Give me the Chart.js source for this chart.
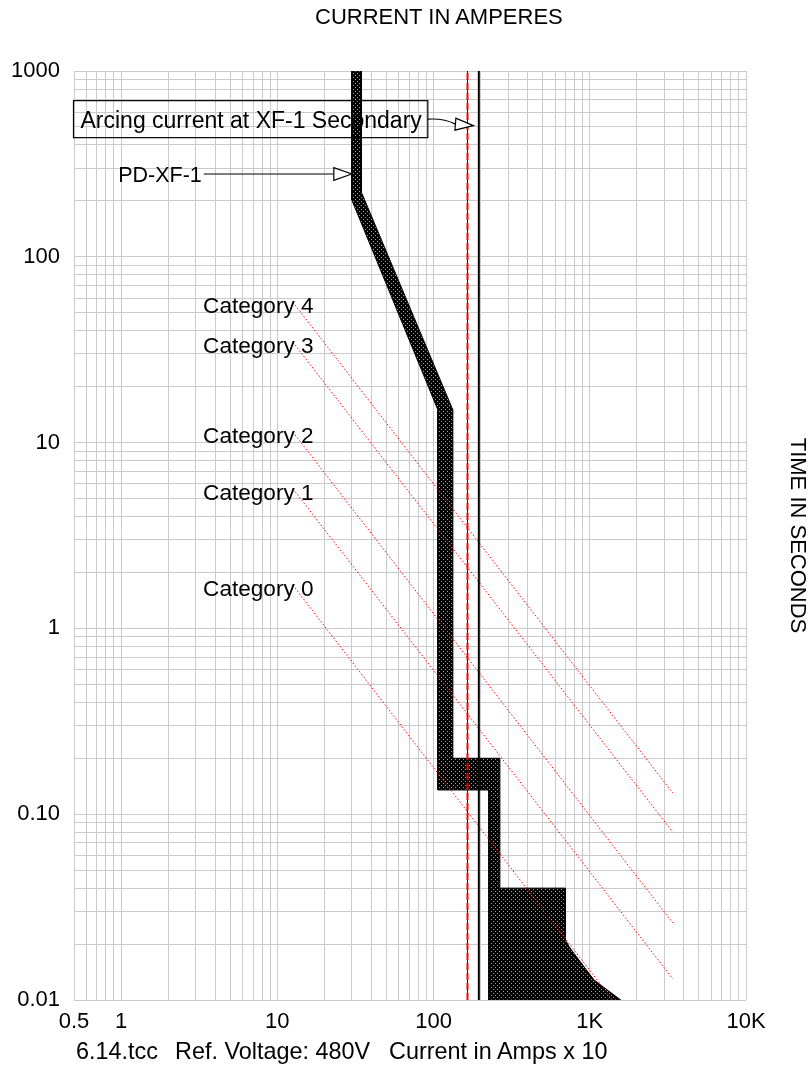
<!DOCTYPE html>
<html>
<head>
<meta charset="utf-8">
<script src="https://cdn.jsdelivr.net/npm/chart.js@4/dist/chart.umd.min.js"></script>
<style>
  html, body { margin: 0; padding: 0; background: #fff; }
  #wrap { position: relative; width: 811px; height: 1091px; }
  .txt { position: absolute; font-family: 'Liberation Sans', Arial, Helvetica, sans-serif; color: #000; white-space: pre; }
  #title { left: 315px; top: 4px; font-size: 22px; line-height: 26px; }
  .note { top: 1038px; font-size: 23.4px; line-height: 26px; }
</style>
</head>
<body>
<div id="wrap">
  <canvas id="c" width="811" height="1091"></canvas>
  <div id="title" class="txt">CURRENT IN AMPERES</div>
  <div class="txt note" style="left:76px">6.14.tcc</div>
  <div class="txt note" style="left:175px">Ref. Voltage: 480V</div>
  <div class="txt note" style="left:389px">Current in Amps x 10</div>
</div>
<script>
// ---------- DATA ----------
const xTickValues = [0.5, 1, 10, 100, 1000, 10000];
const xTickLabels = ['0.5', '1', '10', '100', '1K', '10K'];
const yTickValues = [0.01, 0.1, 1, 10, 100, 1000];
const yTickLabels = ['0.01', '0.10', '1', '10', '100', '1000'];

// PD-XF-1 band outline (amps, seconds), clockwise
const bandAmps = [30, 30, 106.6, 106.6, 226, 226, 1580, 1066, 793, 737, 699, 699, 266, 266, 133, 133, 34.6, 34.6, 30];
const bandSecs = [1000, 202, 15, 0.135, 0.135, 0.01, 0.01, 0.0128, 0.0178, 0.0194, 0.021, 0.04, 0.04, 0.2, 0.2, 15, 222, 1000, 1000];

// Arc-flash category lines
const catNames = ['Category 0', 'Category 1', 'Category 2', 'Category 3', 'Category 4'];
const catStartAmps = [13, 13, 13, 13, 13];
const catStartSecs = [1.65, 5.45, 11, 33.5, 55];
const catEndAmps = [1400, 3400, 3400, 3400, 3400];
const catEndSecs = [0.01, 0.013, 0.026, 0.08, 0.13];

// vertical current markers
const arcingCurrentAmps = 165;
const secondLineAmps = 195;
const timeSpan = [0.01, 1000];

// annotation anchors (amps, seconds)
const arcLabelText = 'Arcing current at XF-1 Secondary';
const arcArrowTip = {x: 180, y: 508};
const pdLabelText = 'PD-XF-1';
const pdArrowTip = {x: 30, y: 279};

// ---------- HELPERS ----------
const FONT = "'Liberation Sans', Arial, Helvetica, sans-serif";
const GRID = '#cacaca';

function decadeGrid(minV, maxV) {
  const out = [];
  for (let e = -3; e <= 5; e++) {
    for (let m = 1; m <= 9; m++) {
      const v = parseFloat((m * Math.pow(10, e)).toPrecision(6));
      if (v >= minV - 1e-12 && v <= maxV + 1e-9) out.push(v);
    }
  }
  return out;
}
const xGrid = decadeGrid(0.5, 10000);
const yGrid = decadeGrid(0.01, 1000);

const xLabelMap = {}; xTickValues.forEach((v, i) => xLabelMap[String(v)] = xTickLabels[i]);
const yLabelMap = {}; yTickValues.forEach((v, i) => yLabelMap[String(v)] = yTickLabels[i]);

// dotted pattern for band
const pc = document.createElement('canvas');
pc.width = 4; pc.height = 4;
const pctx = pc.getContext('2d');
pctx.fillStyle = '#000'; pctx.fillRect(0, 0, 4, 4);
pctx.fillStyle = '#a0a0a0'; pctx.fillRect(1, 1, 1, 1); pctx.fillRect(3, 3, 1, 1);
const ctx0 = document.getElementById('c').getContext('2d');
const bandPattern = ctx0.createPattern(pc, 'repeat');

const zip = (xs, ys) => xs.map((x, i) => ({x: x, y: ys[i]}));

const datasets = [];
datasets.push({ label: 'line195', data: [{x: secondLineAmps, y: timeSpan[0]}, {x: secondLineAmps, y: timeSpan[1]}],
  borderColor: '#000', borderWidth: 2, showLine: true, pointRadius: 0, order: 1 });
datasets.push({ label: 'arcRed', data: [{x: arcingCurrentAmps, y: timeSpan[0]}, {x: arcingCurrentAmps, y: timeSpan[1]}],
  borderColor: '#ff0000', borderWidth: 2, borderDash: [7, 3], showLine: true, pointRadius: 0, order: 2 });
datasets.push({ label: 'arcDark', data: [{x: arcingCurrentAmps, y: timeSpan[0]}, {x: arcingCurrentAmps, y: timeSpan[1]}],
  borderColor: '#400000', borderWidth: 1, showLine: true, pointRadius: 0, order: 3 });
catNames.forEach((n, i) => {
  datasets.push({ label: n, data: [{x: catStartAmps[i], y: catStartSecs[i]}, {x: catEndAmps[i], y: catEndSecs[i]}],
    borderColor: '#ff0000', borderWidth: 1, borderDash: [1.5, 2], showLine: true, pointRadius: 0, order: 5 });
});
datasets.push({ label: 'PD-XF-1', isBand: true, data: zip(bandAmps, bandSecs),
  borderColor: '#000', borderWidth: 1, showLine: true, pointRadius: 0, order: 10, tension: 0 });

const bandFill = {
  id: 'bandFill',
  beforeDatasetDraw(chart, args) {
    const ds = chart.data.datasets[args.index];
    if (!ds.isBand) return;
    const pts = args.meta.data;
    const c = chart.ctx, a = chart.chartArea;
    c.save();
    c.beginPath(); c.rect(a.left, a.top, a.right - a.left, a.bottom - a.top); c.clip();
    c.beginPath();
    pts.forEach((p, i) => i ? c.lineTo(p.x, p.y) : c.moveTo(p.x, p.y));
    c.closePath();
    c.fillStyle = bandPattern;
    c.fill();
    c.restore();
  }
};

function openArrowHead(c, bx, by, tx, ty, half) {
  const dx = tx - bx, dy = ty - by, L = Math.hypot(dx, dy);
  const nx = -dy / L, ny = dx / L;
  c.save();
  c.beginPath();
  c.moveTo(tx, ty);
  c.lineTo(bx + nx * half, by + ny * half);
  c.lineTo(bx - nx * half, by - ny * half);
  c.closePath();
  c.fillStyle = '#fff'; c.fill();
  c.lineWidth = 1.2; c.strokeStyle = '#000'; c.stroke();
  c.restore();
}

const annotations = {
  id: 'annotations',
  afterDatasetsDraw(chart) {
    const c = chart.ctx, xs = chart.scales.x, ys = chart.scales.y, a = chart.chartArea;
    c.save();
    c.fillStyle = '#000';
    c.strokeStyle = '#000';
    c.textBaseline = 'alphabetic';
    c.font = '22.6px ' + FONT;
    catNames.forEach((n, i) => {
      const px = xs.getPixelForValue(catStartAmps[i]);
      const py = ys.getPixelForValue(catStartSecs[i]);
      c.textAlign = 'left';
      c.fillText(n, px - 92, py + 8);
    });
    // arcing label box + arrow
    c.font = '23px ' + FONT;
    const tx = xs.getPixelForValue(arcArrowTip.x), ty = ys.getPixelForValue(arcArrowTip.y);
    const boxTop = ty - 25, boxBot = ty + 12;
    const boxLeft = a.left - 0.5;
    const tw = c.measureText(arcLabelText).width;
    const boxRight = boxLeft + 7 + tw + 6;
    c.textAlign = 'left';
    c.fillText(arcLabelText, boxLeft + 7, ty + 2.5);
    c.lineWidth = 1.2;
    c.strokeRect(boxLeft, boxTop, boxRight - boxLeft, boxBot - boxTop);
    const midY = (boxTop + boxBot) / 2;
    const bx = tx - 18, by = ty - 1.5;
    c.beginPath();
    c.moveTo(boxRight, midY);
    c.quadraticCurveTo(boxRight + 16, midY - 1, bx, by);
    c.stroke();
    openArrowHead(c, bx, by, tx, ty, 6);
    // PD-XF-1 label + arrow
    c.font = '21.5px ' + FONT;
    const px = xs.getPixelForValue(pdArrowTip.x), py = ys.getPixelForValue(pdArrowTip.y);
    c.fillStyle = '#000';
    c.textAlign = 'right';
    c.fillText(pdLabelText, px - 150, py + 7.5);
    c.beginPath();
    c.moveTo(px - 148, py); c.lineTo(px - 18, py);
    c.lineWidth = 1.2; c.stroke();
    openArrowHead(c, px - 18, py, px, py, 6.3);
    c.restore();
  }
};

new Chart(ctx0, {
  type: 'scatter',
  data: { datasets: datasets },
  plugins: [bandFill, annotations],
  options: {
    responsive: false,
    animation: false,
    devicePixelRatio: 1,
    layout: { padding: { top: 71, left: 0, right: 0, bottom: 0 } },
    plugins: {
      legend: { display: false },
      tooltip: { enabled: false },
      title: { display: false }
    },
    scales: {
      x: {
        type: 'logarithmic', min: 0.5, max: 10000, position: 'bottom',
        grid: { color: GRID, lineWidth: 1, drawTicks: false },
        border: { display: false },
        ticks: { autoSkip: false, maxRotation: 0, minRotation: 0, color: '#000', padding: 9,
          font: { family: FONT, size: 22 },
          callback: (v) => xLabelMap[String(v)] !== undefined ? xLabelMap[String(v)] : '' },
        afterBuildTicks: (s) => { s.ticks = xGrid.map(v => ({value: v})); },
        afterFit: (s) => { s.height = 91; }
      },
      y: {
        type: 'logarithmic', min: 0.01, max: 1000, position: 'left',
        grid: { color: GRID, lineWidth: 1, drawTicks: false },
        border: { display: false },
        ticks: { autoSkip: false, color: '#000', padding: 14,
          font: { family: FONT, size: 22 },
          callback: (v) => yLabelMap[String(v)] !== undefined ? yLabelMap[String(v)] : '' },
        afterBuildTicks: (s) => { s.ticks = yGrid.map(v => ({value: v})); },
        afterFit: (s) => { s.width = 74; }
      },
      yR: {
        type: 'logarithmic', min: 0.01, max: 1000, position: 'right', display: true,
        grid: { display: false, drawTicks: false },
        border: { display: false },
        ticks: { display: false },
        title: { display: true, text: 'TIME IN SECONDS', color: '#000',
          font: { family: FONT, size: 22, weight: 'normal' }, padding: { top: 1, bottom: 0 } },
        afterFit: (s) => { s.width = 65; }
      }
    }
  }
});
</script>
</body>
</html>
